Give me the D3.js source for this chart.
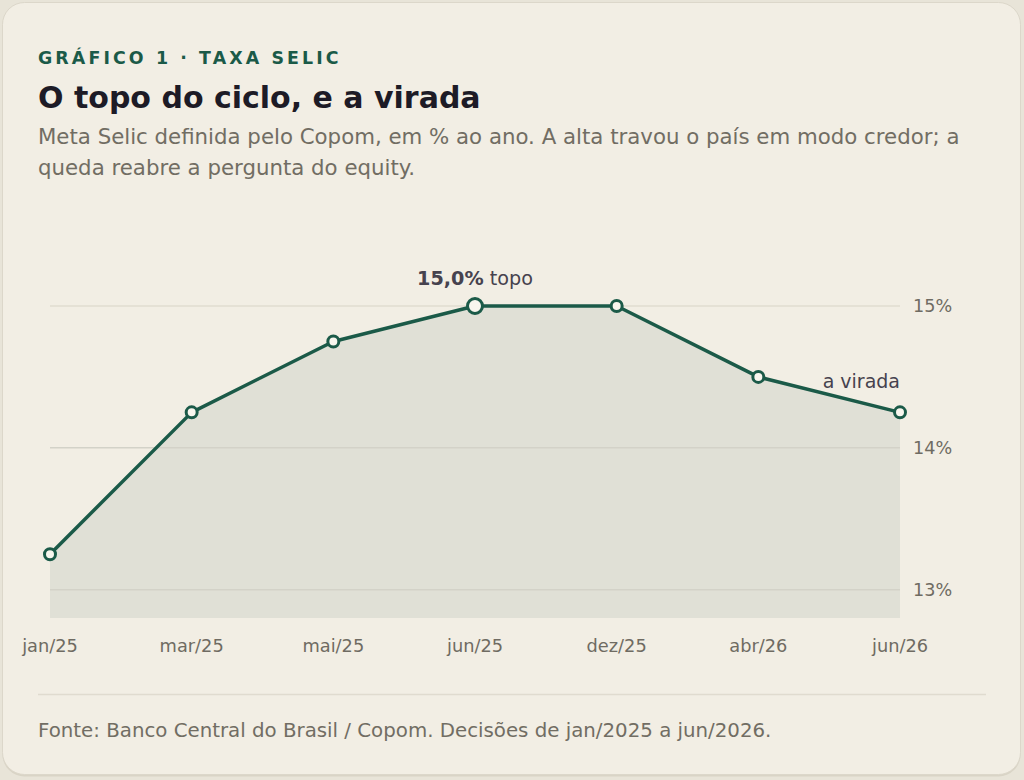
<!DOCTYPE html>
<html>
<head>
<meta charset="utf-8">
<script src="https://cdn.jsdelivr.net/npm/d3@7"></script>
<style>
  html, body { margin: 0; padding: 0; background: #e8e4d8; }
  svg { display: block; font-family: "DejaVu Sans", Verdana, sans-serif; }
</style>
</head>
<body>
<div id="chart"></div>
<script>
  // Selic target decisions
  var months = ['jan/25', 'mar/25', 'mai/25', 'jun/25', 'dez/25', 'abr/26', 'jun/26'];
  var selic = [13.25, 14.25, 14.75, 15.0, 15.0, 14.5, 14.25];
  var yTicks = [13, 14, 15];
  var peakIndex = 3;

  var W = 1024, H = 780;
  var svg = d3.select('#chart').append('svg').attr('width', W).attr('height', H);

  // card
  svg.append('rect').attr('x', 2.5).attr('y', 3.5).attr('width', 1018).attr('height', 773)
    .attr('rx', 22).attr('fill', '#d9d4c6');
  svg.append('rect').attr('x', 2.5).attr('y', 2.5).attr('width', 1018).attr('height', 772)
    .attr('rx', 22).attr('fill', '#f2eee4').attr('stroke', '#dcd7ca').attr('stroke-width', 1);

  // header
  svg.append('text').attr('x', 38).attr('y', 64).attr('fill', '#1b5a48')
    .attr('font-size', 17.4).attr('font-weight', 'bold').attr('letter-spacing', 3.1)
    .text('GRÁFICO 1 · TAXA SELIC');
  svg.append('text').attr('x', 38).attr('y', 108).attr('fill', '#1d1b26')
    .attr('font-size', 30).attr('font-weight', 'bold')
    .text('O topo do ciclo, e a virada');
  var sub = svg.append('text').attr('fill', '#716d63').attr('font-size', 21.3);
  sub.append('tspan').attr('x', 38).attr('y', 144)
    .text('Meta Selic definida pelo Copom, em % ao ano. A alta travou o país em modo credor; a');
  sub.append('tspan').attr('x', 38).attr('y', 175)
    .text('queda reabre a pergunta do equity.');

  // scales
  var x = d3.scalePoint().domain(months).range([50, 900]);
  var y = d3.scaleLinear().domain([12.8, 15]).range([618, 306]);

  var data = months.map(function (m, i) { return { m: m, v: selic[i] }; });

  // area
  var area = d3.area().x(function (d) { return x(d.m); }).y0(y(12.8)).y1(function (d) { return y(d.v); });
  svg.append('path').datum(data).attr('d', area).attr('fill', '#e0e0d6');

  // grid + y labels
  yTicks.forEach(function (t) {
    svg.append('line').attr('x1', 50).attr('x2', 900).attr('y1', y(t)).attr('y2', y(t))
      .attr('stroke', t === 15 ? '#e0dcd0' : '#d3d2c8').attr('stroke-width', 1.5);
    svg.append('text').attr('x', 913).attr('y', y(t)).attr('dy', '0.35em')
      .attr('fill', '#6f6b62').attr('font-size', 17.6).text(t + '%');
  });

  // x labels
  months.forEach(function (m) {
    svg.append('text').attr('x', x(m)).attr('y', 652).attr('text-anchor', 'middle')
      .attr('fill', '#6f6b62').attr('font-size', 17.8).text(m);
  });

  // line
  var line = d3.line().x(function (d) { return x(d.m); }).y(function (d) { return y(d.v); });
  svg.append('path').datum(data).attr('d', line).attr('fill', 'none')
    .attr('stroke', '#1b5a48').attr('stroke-width', 3.5).attr('stroke-linejoin', 'round');

  // points
  svg.selectAll('circle.pt').data(data).enter().append('circle')
    .attr('cx', function (d) { return x(d.m); }).attr('cy', function (d) { return y(d.v); })
    .attr('r', function (d, i) { return i === peakIndex ? 7.5 : 5.5; })
    .attr('fill', '#f8f6ee').attr('stroke', '#1b5a48').attr('stroke-width', 3);

  // annotations
  var peak = data[peakIndex];
  var pl = svg.append('text').attr('x', x(peak.m)).attr('y', y(peak.v) - 21)
    .attr('text-anchor', 'middle').attr('font-size', 19.2).attr('fill', '#46424e');
  pl.append('tspan').attr('font-weight', 'bold').text(peak.v.toFixed(1).replace('.', ',') + '%');
  pl.append('tspan').text(' topo');

  var last = data[data.length - 1];
  svg.append('text').attr('x', x(last.m)).attr('y', y(last.v) - 24)
    .attr('text-anchor', 'end').attr('font-size', 19).attr('fill', '#46424e').text('a virada');

  // footer
  svg.append('line').attr('x1', 38).attr('x2', 986).attr('y1', 694.5).attr('y2', 694.5)
    .attr('stroke', '#e0dbcf').attr('stroke-width', 1.5);
  svg.append('text').attr('x', 38).attr('y', 737).attr('fill', '#716d63').attr('font-size', 19.8)
    .text('Fonte: Banco Central do Brasil / Copom. Decisões de jan/2025 a jun/2026.');
</script>
</body>
</html>
